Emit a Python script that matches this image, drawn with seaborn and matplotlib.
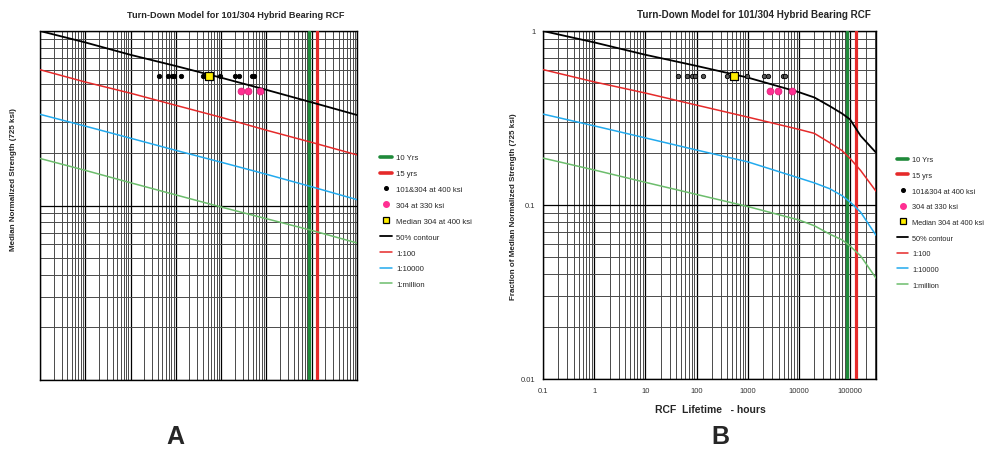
import matplotlib
matplotlib.use("Agg")
import matplotlib.pyplot as plt
import seaborn as sns
from matplotlib.lines import Line2D
from matplotlib.ticker import LogLocator, NullFormatter
from matplotlib import font_manager as fm

# ---------------- data ----------------
title_text = "Turn-Down Model for 101/304 Hybrid Bearing RCF"
ylabel_left = "Median Normalized Strength (725 ksi)"
ylabel_right = "Fraction of Median Normalized Strength (725 ksi)"
xlabel_right = "RCF  Lifetime   - hours"

# Panel A: straight power-law contours (hours -> fraction of median strength)
hours_left = [0.1, 1, 10, 100, 1000, 1e4, 1e5, 1e6]
left_contour50 = [1.0, 0.86, 0.73, 0.63, 0.54, 0.46, 0.39, 0.33]
left_1in100 = [0.60, 0.51, 0.44, 0.375, 0.32, 0.27, 0.23, 0.195]
left_1in10000 = [0.333, 0.285, 0.243, 0.207, 0.177, 0.151, 0.128, 0.108]
left_1inmillion = [0.186, 0.159, 0.135, 0.115, 0.098, 0.084, 0.072, 0.061]

# Panel B: contours with turn-down at long lives
hours_right = [0.1, 1, 10, 100, 1000, 1e4, 2e4, 4e4, 7e4, 1e5, 1.6e5, 3.2e5]
right_contour50 = [1.0, 0.86, 0.73, 0.63, 0.54, 0.445, 0.415, 0.37, 0.335, 0.31, 0.25, 0.20]
right_1in100 = [0.60, 0.51, 0.44, 0.375, 0.32, 0.272, 0.258, 0.228, 0.205, 0.185, 0.158, 0.12]
right_1in10000 = [0.333, 0.285, 0.243, 0.207, 0.177, 0.143, 0.134, 0.124, 0.113, 0.104, 0.091, 0.067]
right_1inmillion = [0.186, 0.159, 0.135, 0.115, 0.098, 0.082, 0.076, 0.068, 0.063, 0.058, 0.051, 0.038]

# test points
pts400_hours = [43, 66, 83, 92, 132, 390, 955, 2040, 2450, 4900, 5400]
pts400_frac = [0.552] * len(pts400_hours)
pts330_hours = [2700, 3900, 7200]
pts330_frac = [0.455] * len(pts330_hours)
median304_hours = [540]
median304_frac = [0.552]

ten_years_h = 87600
fifteen_years_h = 131400

x_decades_left = [0.1, 1, 10, 100, 1000, 1e4, 1e5, 1e6]
x_decades_right = [0.1, 1, 10, 100, 1000, 1e4, 1e5]
x_labels_right = ["0.1", "1", "10", "100", "1000", "10000", "100000"]
y_decades = [0.01, 0.1, 1]
y_labels = ["0.01", "0.1", "1"]

legend_labels = ["10 Yrs", "15 yrs", "101&304 at 400 ksi", "304 at 330 ksi",
                 "Median 304 at 400 ksi", "50% contour", "1:100", "1:10000", "1:million"]

# ---------------- style ----------------
sns.set_style("white")
plt.rcParams["font.family"] = ["Liberation Sans", "DejaVu Sans"]

try:
    fm.findfont("Liberation Sans Narrow", fallback_to_default=False)
    narrow_family = ["Liberation Sans Narrow", "Liberation Sans", "DejaVu Sans"]
except Exception:
    narrow_family = ["Liberation Sans", "DejaVu Sans"]

C_DKGREEN = "#1f8a3a"
C_RED = "#e52a2a"
C_BLUE = "#22aaee"
C_LTGREEN = "#6cbd6c"
C_PINK = "#ff2f92"
C_YELLOW = "#ffee00"

W, H = 988, 452
fig = plt.figure(figsize=(W / 100, H / 100), dpi=100)


def px_rect(x0, y0, x1, y1):
    return [x0 / W, 1 - y1 / H, (x1 - x0) / W, (y1 - y0) / H]


axA = fig.add_axes(px_rect(40, 32, 357, 381))
axB = fig.add_axes(px_rect(543, 32, 876, 380))


def setup(ax, xmax, xticks):
    ax.set_xscale("log")
    ax.set_yscale("log")
    ax.set_xlim(0.1, xmax)
    ax.set_ylim(0.01, 1)
    ax.set_xticks(xticks)
    ax.set_yticks(y_decades)
    ax.xaxis.set_minor_locator(LogLocator(base=10, subs=range(2, 10), numticks=30))
    ax.yaxis.set_minor_locator(LogLocator(base=10, subs=range(2, 10), numticks=30))
    ax.xaxis.set_minor_formatter(NullFormatter())
    ax.yaxis.set_minor_formatter(NullFormatter())
    ax.grid(True, which="major", color="black", lw=0.9)
    ax.grid(True, which="minor", color="#4a4a4a", lw=0.7)
    ax.set_axisbelow(True)
    for s in ax.spines.values():
        s.set_color("black")
        s.set_linewidth(1.0)
    ax.tick_params(which="major", direction="inout", length=5, width=1,
                   colors="black", labelsize=5.5, labelcolor="#333333", pad=3)
    ax.tick_params(which="minor", length=0)
    ax.axvline(ten_years_h, color=C_DKGREEN, lw=2.3, zorder=3)
    ax.axvline(fifteen_years_h, color=C_RED, lw=2.3, zorder=3)


setup(axA, 1e6, x_decades_left)
setup(axB, 3.2e5, x_decades_right)
axA.tick_params(labelbottom=False, labelleft=False)
axB.set_xticklabels(x_labels_right)
axB.set_yticklabels(y_labels)


def draw_lines(ax, hrs, c50, c100, c1e4, c1e6):
    sns.lineplot(x=hrs, y=c1e6, ax=ax, color=C_LTGREEN, linewidth=1.1,
                 estimator=None, sort=False, legend=False, zorder=4)
    sns.lineplot(x=hrs, y=c1e4, ax=ax, color=C_BLUE, linewidth=1.1,
                 estimator=None, sort=False, legend=False, zorder=4)
    sns.lineplot(x=hrs, y=c100, ax=ax, color=C_RED, linewidth=1.1,
                 estimator=None, sort=False, legend=False, zorder=4)
    sns.lineplot(x=hrs, y=c50, ax=ax, color="black", linewidth=1.3,
                 estimator=None, sort=False, legend=False, zorder=4)


def draw_points(ax, dot_face):
    sns.scatterplot(x=pts400_hours, y=pts400_frac, ax=ax, s=10, color=dot_face,
                    edgecolor="black", linewidth=0.6, legend=False, zorder=6)
    sns.scatterplot(x=pts330_hours, y=pts330_frac, ax=ax, s=24, color=C_PINK,
                    edgecolor="#e0207a", linewidth=0.6, legend=False, zorder=6)
    sns.scatterplot(x=median304_hours, y=median304_frac, ax=ax, s=34, marker="s",
                    color=C_YELLOW, edgecolor="black", linewidth=0.9, legend=False, zorder=7)


draw_lines(axA, hours_left, left_contour50, left_1in100, left_1in10000, left_1inmillion)
draw_lines(axB, hours_right, right_contour50, right_1in100, right_1in10000, right_1inmillion)
draw_points(axA, "black")
draw_points(axB, "#555555")

# labels and titles
fig.text(236 / W, 1 - 15 / H, title_text, ha="center", va="center",
         fontsize=6.6, fontweight="bold")
fig.text(754 / W, 1 - 15 / H, title_text, ha="center", va="center",
         fontsize=7.1, fontweight="bold")
fig.text(14 / W, 1 - 180 / H, ylabel_left, ha="center", va="center",
         rotation=90, fontsize=5.8, fontweight="bold")
fig.text(513 / W, 1 - 207 / H, ylabel_right, ha="center", va="center",
         rotation=90, fontsize=5.8, fontweight="bold")
fig.text(710 / W, 1 - 410 / H, xlabel_right, ha="center", va="center",
         fontsize=7.5, fontweight="bold")
fig.text(175 / W, 1 - 437 / H, "A", ha="center", va="center",
         fontsize=18, fontweight="bold")
fig.text(720 / W, 1 - 437 / H, "B", ha="center", va="center",
         fontsize=18, fontweight="bold")


def legend_handles():
    return [
        Line2D([], [], color=C_DKGREEN, lw=2.6),
        Line2D([], [], color=C_RED, lw=2.6),
        Line2D([], [], marker="o", ls="none", mfc="black", mec="black", ms=2.6),
        Line2D([], [], marker="o", ls="none", mfc=C_PINK, mec=C_PINK, ms=4),
        Line2D([], [], marker="s", ls="none", mfc=C_YELLOW, mec="black", mew=0.9, ms=5),
        Line2D([], [], color="black", lw=1.3),
        Line2D([], [], color=C_RED, lw=1.1),
        Line2D([], [], color=C_BLUE, lw=1.1),
        Line2D([], [], color=C_LTGREEN, lw=1.1),
    ]


for x0, top, fsize, spacing in ((380, 155, 5.6, 1.08), (897, 157, 5.3, 1.16)):
    prop = fm.FontProperties(family=narrow_family, size=fsize)
    fig.legend(legend_handles(), legend_labels, loc="upper left",
               bbox_to_anchor=(x0 / W, 1 - top / H), bbox_transform=fig.transFigure,
               frameon=False, prop=prop, handlelength=1.55, handletextpad=0.5,
               labelspacing=spacing, borderpad=0, borderaxespad=0)

fig.savefig("out.png", dpi=100)
